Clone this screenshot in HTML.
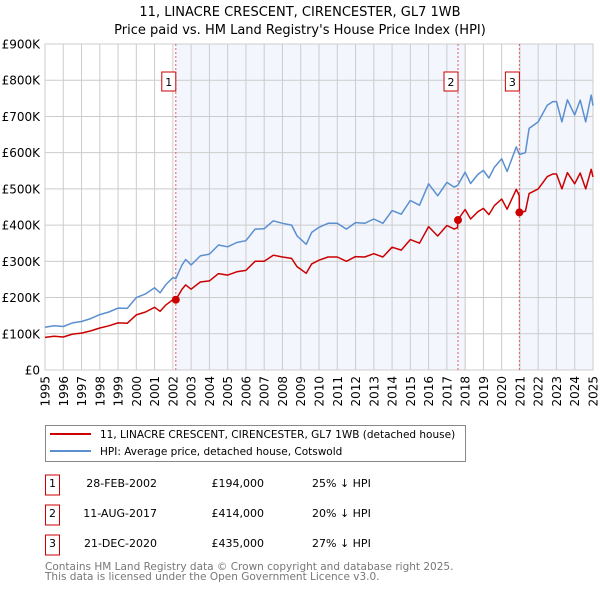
<!DOCTYPE html>
<html><head><meta charset="utf-8"><style>
body{margin:0;background:#fff;font-family:"Liberation Sans","DejaVu Sans",sans-serif;}
svg text{font-family:"DejaVu Sans","Liberation Sans",sans-serif;}
</style></head><body>
<svg id="chart" width="600" height="590" xmlns="http://www.w3.org/2000/svg">
<text x="300" y="16" text-anchor="middle" font-size="13">11, LINACRE CRESCENT, CIRENCESTER, GL7 1WB</text>
<text x="300" y="34" text-anchor="middle" font-size="13">Price paid vs. HM Land Registry's House Price Index (HPI)</text>
<g id="plot"></g>
<g>
<rect x="45.5" y="425.5" width="420" height="36" fill="#fff" stroke="#888"/>
<line x1="50" y1="434" x2="91" y2="434" stroke="#cc0000" stroke-width="2"/>
<text x="100" y="438" font-size="10.5">11, LINACRE CRESCENT, CIRENCESTER, GL7 1WB (detached house)</text>
<line x1="50" y1="451" x2="91" y2="451" stroke="#5b8fd0" stroke-width="2"/>
<text x="100" y="455" font-size="10.5">HPI: Average price, detached house, Cotswold</text>
</g>
<g id="table" font-size="11"></g>
<text x="45" y="570" font-size="10.5" fill="#777">Contains HM Land Registry data © Crown copyright and database right 2025.</text>
<text x="45" y="580" font-size="10.5" fill="#777">This data is licensed under the Open Government Licence v3.0.</text>
</svg>
<script>
const NS="http://www.w3.org/2000/svg";
const hpiDates=[1995.0,1995.5,1996.0,1996.5,1997.0,1997.5,1998.0,1998.5,1999.0,1999.5,2000.0,2000.5,2001.0,2001.3,2001.6,2002.0,2002.16,2002.5,2002.7,2003.0,2003.5,2004.0,2004.5,2005.0,2005.5,2006.0,2006.5,2007.0,2007.5,2008.0,2008.5,2008.8,2009.0,2009.3,2009.6,2010.0,2010.5,2011.0,2011.5,2012.0,2012.5,2013.0,2013.5,2014.0,2014.5,2015.0,2015.5,2016.0,2016.5,2017.0,2017.4,2017.6,2018.0,2018.3,2018.7,2019.0,2019.3,2019.6,2020.0,2020.3,2020.8,2020.97,2021.3,2021.5,2022.0,2022.5,2022.8,2023.0,2023.3,2023.6,2024.0,2024.3,2024.6,2024.9,2025.0];
const hpiValues=[118,122,120,130,134,142,153,160,171,170,200,210,227,213,235,255,252,290,305,290,315,320,345,340,352,357,389,390,412,405,400,370,361,347,380,394,405,405,389,407,405,417,405,440,430,468,455,514,481,518,505,510,546,515,540,551,530,560,583,548,616,595,600,667,685,731,741,741,685,746,704,745,685,759,730];
const priceDates=[1995.0,1995.5,1996.0,1996.5,1997.0,1997.5,1998.0,1998.5,1999.0,1999.5,2000.0,2000.5,2001.0,2001.3,2001.6,2002.0,2002.16,2002.5,2002.7,2003.0,2003.5,2004.0,2004.5,2005.0,2005.5,2006.0,2006.5,2007.0,2007.5,2008.0,2008.5,2008.8,2009.0,2009.3,2009.6,2010.0,2010.5,2011.0,2011.5,2012.0,2012.5,2013.0,2013.5,2014.0,2014.5,2015.0,2015.5,2016.0,2016.5,2017.0,2017.4,2017.59,2017.6,2018.0,2018.3,2018.7,2019.0,2019.3,2019.6,2020.0,2020.3,2020.8,2020.96,2020.97,2021.3,2021.5,2022.0,2022.5,2022.8,2023.0,2023.3,2023.6,2024.0,2024.3,2024.6,2024.9,2025.0];
const priceValues=[90,93,91,99,102,108,116,122,130,129,152,160,173,162,179,194,194,223,235,223,243,246,266,262,271,275,300,300,317,312,308,285,278,267,293,303,312,312,300,313,312,321,312,339,331,360,350,396,370,399,389,393,414,443,417,437,446,429,454,472,444,499,482,435,438,487,500,534,541,541,500,545,514,544,500,554,533];
const saleLabels=["1","2","3"];
const saleDates=[2002.16,2017.61,2020.97];
const salePrices=[194,414,435];
const saleDateText=["28-FEB-2002","11-AUG-2017","21-DEC-2020"];
const salePriceText=["£194,000","£414,000","£435,000"];
const saleDiffText=["25% ↓ HPI","20% ↓ HPI","27% ↓ HPI"];
const yTicks=[0,100,200,300,400,500,600,700,800,900];
const yTickLabels=["£0","£100K","£200K","£300K","£400K","£500K","£600K","£700K","£800K","£900K"];
const xTicks=[1995,1996,1997,1998,1999,2000,2001,2002,2003,2004,2005,2006,2007,2008,2009,2010,2011,2012,2013,2014,2015,2016,2017,2018,2019,2020,2021,2022,2023,2024,2025];

const X0=45,X1=593,Y0=370,Y1=44;
const xs=d=>X0+(d-1995)/30*(X1-X0);
const ys=v=>Y0-v/900*(Y0-Y1);
const plot=document.getElementById('plot');
function mk(tag,attrs,parent){const e=document.createElementNS(NS,tag);for(const k in attrs)e.setAttribute(k,attrs[k]);(parent||plot).appendChild(e);return e;}

let e;
e=mk('rect',{x:X0,y:Y1,width:X1-X0,height:Y0-Y1,fill:'#fff'});


e=mk('rect',{x:xs(saleDates[0]),y:Y1,width:xs(2018.05)-xs(saleDates[0]),height:Y0-Y1,fill:'#f3f6fd'});


e=mk('rect',{x:xs(saleDates[2]),y:Y1,width:X1-xs(saleDates[2]),height:Y0-Y1,fill:'#f3f6fd'});



yTicks.forEach((t,i)=>{
 e=mk('line',{x1:X0,x2:X1,y1:ys(t),y2:ys(t),stroke:'#ccc','stroke-width':1});
 
 
 e=mk('text',{x:40,y:ys(t)+4.5,'text-anchor':'end','font-size':12});
 e.textContent=yTickLabels[i];
 
 
});
xTicks.forEach(t=>{
 e=mk('line',{x1:xs(t),x2:xs(t),y1:Y1,y2:Y0,stroke:'#ccc','stroke-width':1});
 
 
 e=mk('text',{x:0,y:0,'text-anchor':'end','font-size':12,transform:`translate(${xs(t)+4.5},376) rotate(-90)`});
 e.textContent=t;
 
 
});
e=mk('rect',{x:X0,y:Y1,width:X1-X0,height:Y0-Y1,fill:'none',stroke:'#ccc'});



saleDates.forEach((d,i)=>{
 e=mk('line',{x1:xs(d),x2:xs(d),y1:Y1,y2:Y0,stroke:'#e06060','stroke-width':1,'stroke-dasharray':'2,2'});
 
 
});

function path(ds,vs,col,name){
 let p=ds.map((d,i)=>(i?'L':'M')+xs(d).toFixed(1)+','+ys(vs[i]).toFixed(1)).join('');
 e=mk('path',{d:p,fill:'none',stroke:col,'stroke-width':1.5,'stroke-linejoin':'round'});
 
 
}
path(hpiDates,hpiValues,'#5b8fd0','hpi-line');
path(priceDates,priceValues,'#cc0000','price-paid-line');

saleDates.forEach((d,i)=>{
 e=mk('circle',{cx:xs(d),cy:ys(salePrices[i]),r:4,fill:'#cc0000'});
 
 
 const g=mk('g',{});
 
 
 mk('rect',{x:xs(d)-14,y:72,width:14,height:19,fill:'#fff',stroke:'#cc0000'},g);
 const t=mk('text',{x:xs(d)-7,y:86,'text-anchor':'middle','font-size':11},g);
 t.textContent=saleLabels[i];
});

const table=document.getElementById('table');
const rowY=[485,515,545];
saleLabels.forEach((l,i)=>{
 const g=mk('g',{},table);
 
 
 mk('rect',{x:45.5,y:rowY[i]-10,width:14,height:20,fill:'#fff',stroke:'#cc0000'},g);
 let t=mk('text',{x:52.5,y:rowY[i]+2,'text-anchor':'middle'},g);t.textContent=l;
 t=mk('text',{x:157,y:rowY[i]+2,'text-anchor':'end'},g);t.textContent=saleDateText[i];
 t=mk('text',{x:264,y:rowY[i]+2,'text-anchor':'end'},g);t.textContent=salePriceText[i];
 t=mk('text',{x:312,y:rowY[i]+2},g);t.textContent=saleDiffText[i];
});
</script>
</body></html>
